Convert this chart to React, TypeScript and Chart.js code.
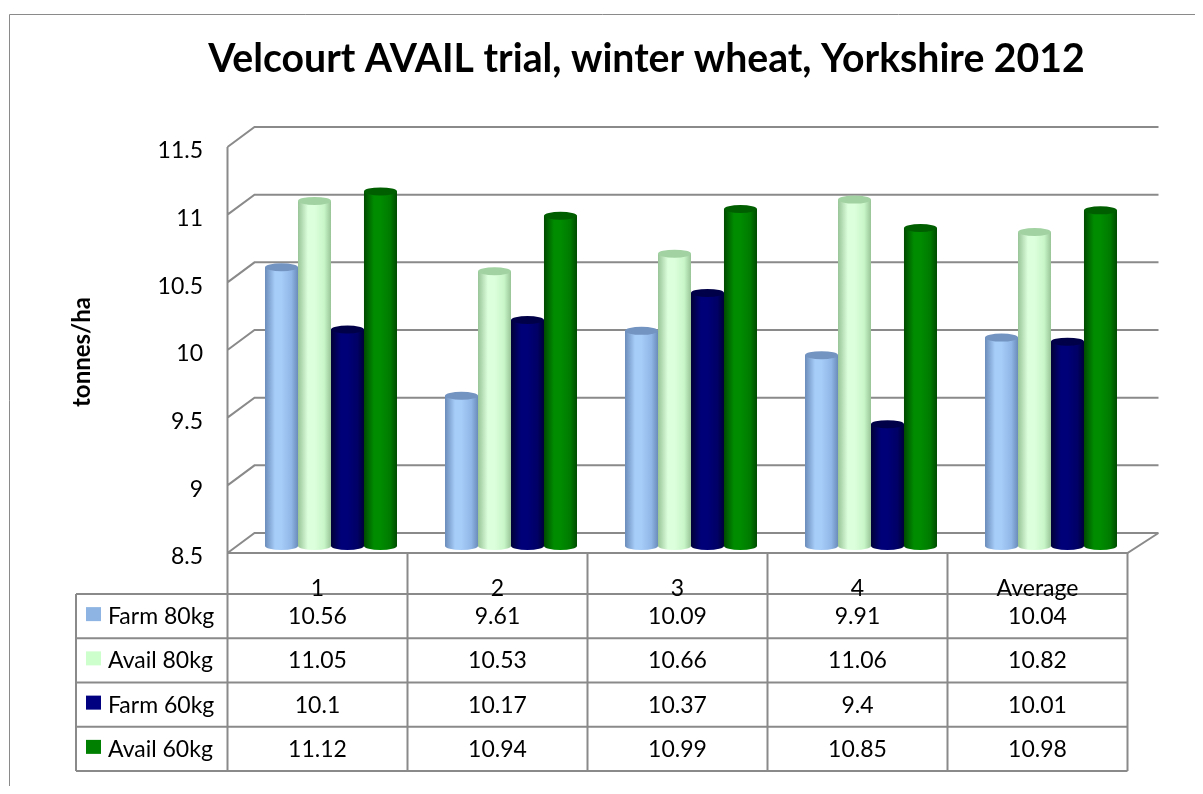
import React, { useEffect, useRef } from 'react';
import { Chart, registerables } from 'chart.js';

Chart.register(...registerables);

const TITLE = 'Velcourt AVAIL trial, winter wheat, Yorkshire 2012';
const Y_TITLE = 'tonnes/ha';

const categories = ['1', '2', '3', '4', 'Average'];
const seriesNames = ['Farm 80kg', 'Avail 80kg', 'Farm 60kg', 'Avail 60kg'];
const farm80 = [10.56, 9.61, 10.09, 9.91, 10.04];
const avail80 = [11.05, 10.53, 10.66, 11.06, 10.82];
const farm60 = [10.1, 10.17, 10.37, 9.4, 10.01];
const avail60 = [11.12, 10.94, 10.99, 10.85, 10.98];
const yTicks = [8.5, 9, 9.5, 10, 10.5, 11, 11.5];
const yTickLabels = ['8.5', '9', '9.5', '10', '10.5', '11', '11.5'];

const seriesValues = [farm80, avail80, farm60, avail60];
const keyColors = ['#8DB4E2', '#CCFFCC', '#000080', '#008000'];
// edge, light, mid, top
const shades = [
  ['#6A8CBA', '#A6CCF8', '#8FB6E6', '#7393C0'],
  ['#98C498', '#DCFFDC', '#C8F5C8', '#A2D2A2'],
  ['#000038', '#000078', '#000066', '#000048'],
  ['#004A00', '#008C00', '#007A00', '#005E00'],
];

const FONT = 'Lato, "Liberation Sans", sans-serif';
const LINE = '#8A8A8A';
const DEPTH_L = 27;
const DEPTH_R = 31;
const FRONT_DY = 7;
const BACK_DY = -13;
const TABLE_SHIFT = 13.5;
const LEGEND_W = 151.5;
const ROW_H = 44.25;
const HEADER_H = 41;
const RY = 4;

function geometry(chart: any) {
  const xs = chart.scales.x;
  const ys = chart.scales.y;
  const step = xs.getPixelForValue(1) - xs.getPixelForValue(0);
  const bounds: number[] = [];
  for (let i = 0; i <= categories.length; i++) {
    bounds.push(xs.getPixelForValue(0) - step / 2 - TABLE_SHIFT + i * step);
  }
  const frontL = bounds[0];
  const frontR = bounds[bounds.length - 1];
  const basePx = ys.getPixelForValue(yTicks[0]);
  return { xs, ys, step, bounds, basePx, frontL, frontR, backL: frontL + DEPTH_L, backR: frontR + DEPTH_R, frontBase: basePx + FRONT_DY, backBase: basePx + BACK_DY };
}

const scenePlugin = {
  id: 'scene',
  beforeDatasetsDraw(chart: any) {
    const ctx: CanvasRenderingContext2D = chart.ctx;
    const g = geometry(chart);
    ctx.save();
    // outer frame
    ctx.strokeStyle = LINE;
    ctx.lineWidth = 1;
    ctx.beginPath();
    ctx.moveTo(1.5, chart.height);
    ctx.lineTo(1.5, 6.5);
    ctx.lineTo(chart.width, 6.5);
    ctx.stroke();

    // title
    ctx.fillStyle = '#000';
    ctx.font = `bold 34px ${FONT}`;
    const w = ctx.measureText(TITLE).width;
    const size = (34 * 877) / w;
    ctx.font = `bold ${size.toFixed(1)}px ${FONT}`;
    ctx.textAlign = 'center';
    ctx.textBaseline = 'alphabetic';
    ctx.fillText(TITLE, 638.5, 64);

    // y title
    ctx.save();
    ctx.translate(74, 344);
    ctx.rotate(-Math.PI / 2);
    ctx.font = `bold 24px ${FONT}`;
    ctx.textBaseline = 'middle';
    ctx.fillText(Y_TITLE, 0, 0);
    ctx.restore();

    // walls
    ctx.strokeStyle = LINE;
    ctx.lineWidth = 2;
    ctx.beginPath();
    for (const v of yTicks) {
      const py = g.ys.getPixelForValue(v);
      const back = py + BACK_DY;
      const front = py + FRONT_DY;
      ctx.moveTo(g.frontL, front);
      ctx.lineTo(g.backL, back);
      ctx.lineTo(g.backR, back);
    }
    // floor front edge and right side
    ctx.moveTo(g.frontL, g.frontBase);
    ctx.lineTo(g.frontR, g.frontBase);
    ctx.lineTo(g.backR, g.backBase);
    // front vertical axis
    const topFront = g.ys.getPixelForValue(yTicks[yTicks.length - 1]) + FRONT_DY;
    ctx.moveTo(g.frontL, topFront);
    ctx.lineTo(g.frontL, g.frontBase);
    ctx.stroke();
    ctx.restore();
  },
  afterDatasetsDraw(chart: any) {
    const ctx: CanvasRenderingContext2D = chart.ctx;
    const g = geometry(chart);
    ctx.save();
    // cylinders
    chart.data.datasets.forEach((_: any, d: number) => {
      const meta = chart.getDatasetMeta(d);
      const [edge, light, mid, top] = shades[d];
      meta.data.forEach((el: any) => {
        const p = el.getProps(['x', 'y', 'base', 'width'], true);
        const base = Math.min(p.base, g.basePx);
        const left = p.x - p.width / 2;
        const grad = ctx.createLinearGradient(left, 0, left + p.width, 0);
        grad.addColorStop(0, edge);
        grad.addColorStop(0.3, light);
        grad.addColorStop(0.5, light);
        grad.addColorStop(0.8, mid);
        grad.addColorStop(1, edge);
        ctx.fillStyle = grad;
        ctx.fillRect(left, p.y, p.width, base - p.y);
        ctx.beginPath();
        ctx.ellipse(p.x, base, p.width / 2, RY, 0, 0, Math.PI);
        ctx.fill();
        ctx.beginPath();
        ctx.ellipse(p.x, p.y, p.width / 2, RY, 0, 0, Math.PI * 2);
        ctx.fillStyle = top;
        ctx.fill();
      });
    });

    // data table
    const rowTop = g.frontBase + HEADER_H;
    const legendL = g.frontL - LEGEND_W;
    const bottom = rowTop + ROW_H * seriesNames.length;
    ctx.strokeStyle = LINE;
    ctx.lineWidth = 2;
    ctx.beginPath();
    for (let i = 0; i < g.bounds.length; i++) {
      ctx.moveTo(g.bounds[i], g.frontBase);
      ctx.lineTo(g.bounds[i], bottom);
    }
    ctx.moveTo(legendL, rowTop);
    ctx.lineTo(legendL, bottom);
    for (let r = 0; r <= seriesNames.length; r++) {
      const yy = rowTop + r * ROW_H;
      ctx.moveTo(legendL, yy);
      ctx.lineTo(g.frontR, yy);
    }
    ctx.stroke();

    ctx.fillStyle = '#000';
    ctx.font = `23px ${FONT}`;
    ctx.textBaseline = 'alphabetic';
    ctx.textAlign = 'center';
    categories.forEach((c, i) => {
      const cx = (g.bounds[i] + g.bounds[i + 1]) / 2;
      ctx.fillText(c, cx, rowTop + 2);
    });
    seriesNames.forEach((name, r) => {
      const cy = rowTop + r * ROW_H + ROW_H / 2;
      ctx.fillStyle = keyColors[r];
      ctx.fillRect(legendL + 10, cy - 9, 15, 14);
      ctx.fillStyle = '#000';
      ctx.textAlign = 'left';
      ctx.fillText(name, legendL + 32, cy + 8);
      ctx.textAlign = 'center';
      seriesValues[r].forEach((v, i) => {
        const cx = (g.bounds[i] + g.bounds[i + 1]) / 2;
        ctx.fillText(String(v), cx, cy + 8);
      });
    });
    ctx.restore();
  },
};

export default function App() {
  const ref = useRef<HTMLCanvasElement | null>(null);
  useEffect(() => {
    if (!ref.current) return;
    const chart = new Chart(ref.current, {
      type: 'bar',
      data: {
        labels: categories,
        datasets: seriesNames.map((name, i) => ({
          label: name,
          data: seriesValues[i],
          base: yTicks[0],
          backgroundColor: shades[i][2],
          borderWidth: 0,
          categoryPercentage: 0.733,
          barPercentage: 1,
        })),
      },
      options: {
        animation: false,
        responsive: true,
        maintainAspectRatio: false,
        devicePixelRatio: 1,
        layout: { padding: { top: 132, bottom: 240, left: 0, right: 54 } },
        plugins: { legend: { display: false }, title: { display: false }, tooltip: { enabled: false } },
        scales: {
          x: { display: false, offset: true },
          y: {
            min: yTicks[0],
            max: yTicks[yTicks.length - 1],
            grid: { display: false, drawTicks: false },
            border: { display: false },
            ticks: {
              stepSize: 0.5,
              padding: 38,
              labelOffset: 11,
              color: '#000',
              font: { family: FONT, size: 23 },
              callback: (v: any) => {
                const k = yTicks.indexOf(Number(v));
                return k >= 0 ? yTickLabels[k] : '';
              },
            },
            afterFit: (s: any) => {
              s.width = 233;
            },
          },
        },
      },
      plugins: [scenePlugin],
    });
    return () => chart.destroy();
  }, []);
  return (
    <div style={{ width: '1187px', height: '778px', position: 'relative' }}>
      <canvas ref={ref} style={{ display: 'block' }} />
    </div>
  );
}
